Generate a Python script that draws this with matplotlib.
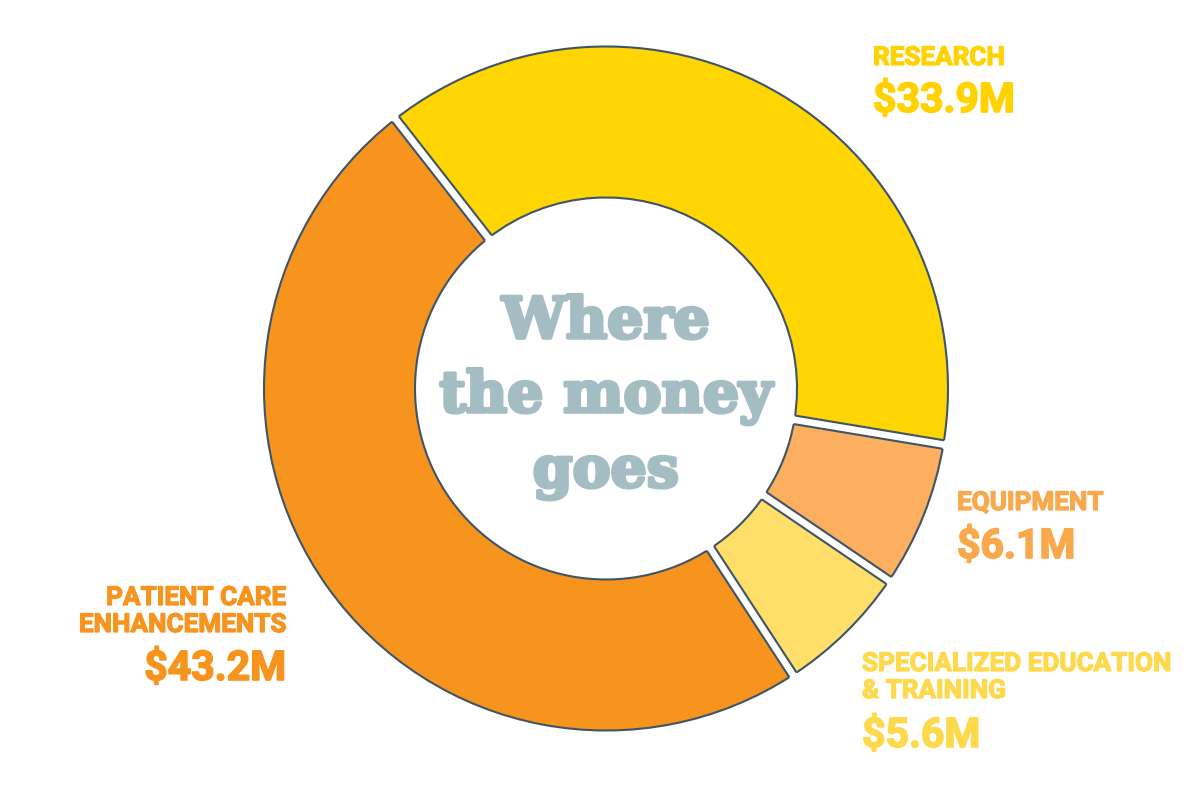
import matplotlib
matplotlib.use("Agg")
import matplotlib.pyplot as plt
import matplotlib.patheffects as pe
import numpy as np
from matplotlib.patches import Polygon

# ---- data ----
categories = ["RESEARCH", "EQUIPMENT", "SPECIALIZED EDUCATION\n& TRAINING", "PATIENT CARE\nENHANCEMENTS"]
values = [33.9, 6.1, 5.6, 43.2]
face_colors = ["#FFD504", "#FBAF5F", "#FFDF6A", "#F7941E"]
label_colors = ["#FFD200", "#F9A84B", "#FFD94C", "#F7941E"]
center_lines = ["Where", "the money", "goes"]

# ---- layout (pixel coordinates, y measured from top) ----
W, H = 1200, 785
fig = plt.figure(figsize=(12, 7.85), dpi=100)
ax = fig.add_axes([0, 0, 1, 1])

cx, cy = 606, H - 388.5
R = 342
r_in = 191
edge = "#3E5566"
start = 128

wedges, _ = ax.pie(values, colors=face_colors, startangle=start, counterclock=False,
                   radius=R, center=(cx, cy),
                   wedgeprops=dict(width=R - r_in, edgecolor=edge, linewidth=1.5))

# white gaps with outlined sides between slices
total = sum(values)
cum = np.concatenate([[0], np.cumsum(values)])
half_gap = 4.3
c0 = np.array([cx, cy])
for c in cum[:-1]:
    phi = np.deg2rad(start - 360 * c / total)
    u = np.array([np.cos(phi), np.sin(phi)])
    n = np.array([-np.sin(phi), np.cos(phi)])
    pts = [c0 + (r_in - 6) * u + half_gap * n, c0 + (R + 6) * u + half_gap * n,
           c0 + (R + 6) * u - half_gap * n, c0 + (r_in - 6) * u - half_gap * n]
    ax.add_patch(Polygon(pts, closed=True, facecolor="white", edgecolor="none", zorder=3))
    for s in (half_gap, -half_gap):
        t0 = np.sqrt(r_in ** 2 - s ** 2)
        t1 = np.sqrt(R ** 2 - s ** 2)
        p0 = c0 + t0 * u + s * n
        p1 = c0 + t1 * u + s * n
        ax.plot([p0[0], p1[0]], [p0[1], p1[1]], color=edge, lw=1.5,
                solid_capstyle="butt", zorder=4)

# centre title
title_col = "#A4BDC3"
center_baselines = [338, 412, 487]
for line, yb in zip(center_lines, center_baselines):
    ax.text(cx, H - yb, line, ha="center", va="baseline", family="DejaVu Serif",
            fontweight="bold", fontsize=41, color=title_col, zorder=5,
            path_effects=[pe.withStroke(linewidth=2.6, foreground=title_col)])

# labels: (x, name baselines, value baseline, ha)
label_pos = [
    (873, [65], 112, "left"),
    (957, [510], 558, "left"),
    (862, [671, 698], 747, "left"),
    (286, [605, 632], 680, "right"),
]
for cat, val, col, (x, nb, vb, ha) in zip(categories, values, label_colors, label_pos):
    for part, yb in zip(cat.split("\n"), nb):
        ax.text(x, H - yb, part, ha=ha, va="baseline", family="Roboto",
                fontweight="bold", fontsize=18.8, color=col,
                path_effects=[pe.withStroke(linewidth=0.9, foreground=col)])
    ax.text(x, H - vb, f"${val:.1f}M", ha=ha, va="baseline", family="Roboto",
            fontweight="bold", fontsize=29.5, color=col,
            path_effects=[pe.withStroke(linewidth=1.2, foreground=col)])

ax.set_xlim(0, W)
ax.set_ylim(0, H)
ax.set_aspect("equal")
ax.axis("off")
fig.savefig("out.png", dpi=100, facecolor="white")
